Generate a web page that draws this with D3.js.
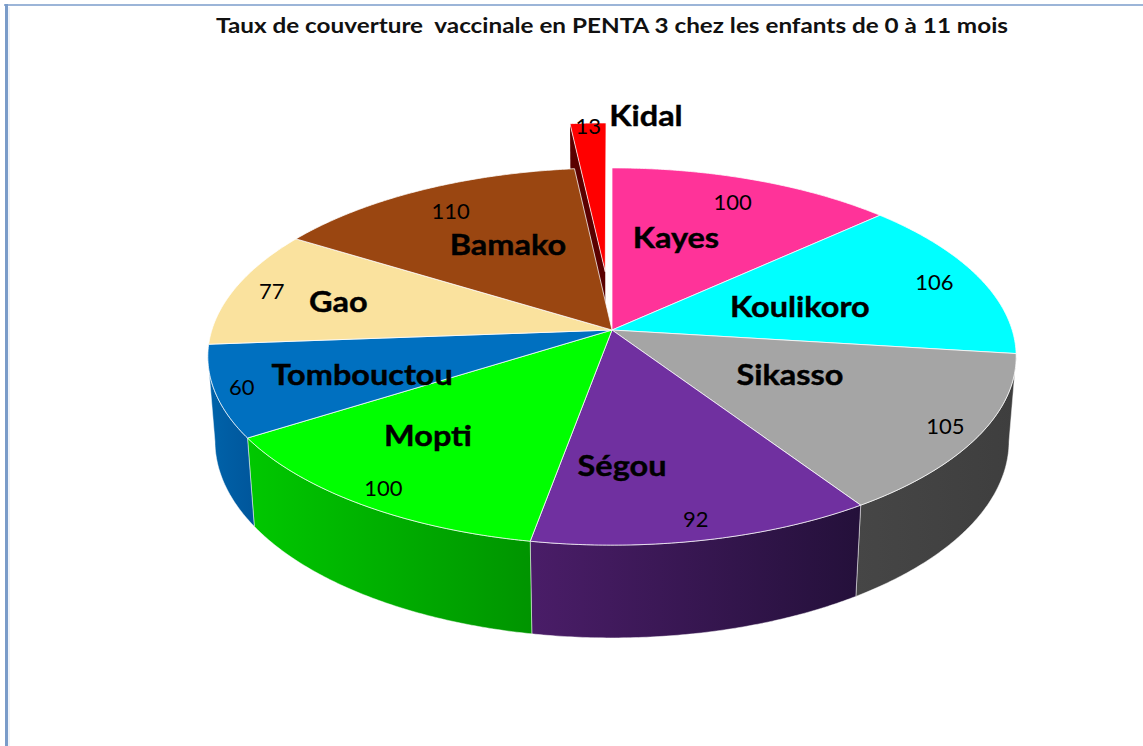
<!DOCTYPE html>
<html><head><meta charset="utf-8">
<script src="https://cdn.jsdelivr.net/npm/d3@7"></script>
<style>body{margin:0;background:#fff}svg{display:block}</style>
</head><body>
<svg id="c" width="1143" height="746"></svg>
<script>
// ---- data ----
const title = "Taux de couverture  vaccinale en PENTA 3 chez les enfants de 0 à 11 mois";
const regions = ["Kayes","Koulikoro","Sikasso","Ségou","Mopti","Tombouctou","Gao","Bamako","Kidal"];
const coverage = [100,106,105,92,100,60,77,110,13];

// ---- styles ----
const topColors = ["#FF3399","#00FFFF","#A5A5A5","#7030A0","#00FF00","#0070C0","#FAE29E","#9A4611","#FF0000"];
const wallLight = ["#b0246c","#00b4b4","#464646","#4a1d68","#00c800","#0063aa","#b8a06e","#6a300b","#6b0000"];
const wallDark  = ["#8a1c55","#009090","#3e3e3e","#24103a","#009400","#00569b","#9c8860","#55260a","#5a0000"];

// ---- layout ----
const explode = [0,0,0,0,0,0,0,0,0.33];
const nameShiftDeg = [-5.8, 2.4, -3.3, 9.6, 5, -2.8, -1.3, 2.6, 9.5];
const nameRadius = [0.562,0.496,0.49,0.663,0.68,0.648,0.716,0.565,1.062];
const valueRadius = [0.835,0.878,0.915,0.913,0.918,0.935,0.902,0.834,0.98];

const W = 1143, H = 746;
const cx = 612, cy = 330, F = 2525, Dist = 6.31;
const sn = 0.462, cs = Math.sqrt(1 - sn*sn), depth = 0.24;

function proj(X, Z, Hh){
  const zc = Z*cs + Hh*sn, yc = Z*sn - Hh*cs, k = F/(Dist - zc);
  return [cx + X*k, cy + yc*k];
}
function pt(a, r, ox, oz, Hh){ return proj(ox + r*Math.sin(a), oz - r*Math.cos(a), Hh); }
function arcPts(a0, a1, r, ox, oz, Hh){
  const n = Math.max(2, Math.ceil(Math.abs(a1-a0)/(Math.PI/360)));
  const p = [];
  for (let k=0;k<=n;k++){ const a = a0+(a1-a0)*k/n; p.push(pt(a,r,ox,oz,Hh)); }
  return p;
}
const toPath = p => "M" + p.map(q=>q[0].toFixed(2)+","+q[1].toFixed(2)).join("L") + "Z";

const svg = d3.select("#c");
const defs = svg.append("defs");

// border
svg.append("line").attr("x1",4).attr("x2",W).attr("y1",5).attr("y2",5)
  .attr("stroke","#9cb5d8").attr("stroke-width",2);
svg.append("line").attr("x1",6.5).attr("x2",6.5).attr("y1",4).attr("y2",H)
  .attr("stroke","#7a9cc9").attr("stroke-width",3);
svg.append("line").attr("x1",9).attr("x2",9).attr("y1",7).attr("y2",H)
  .attr("stroke","#dfe8f4").attr("stroke-width",1);

// title
svg.append("text").attr("x",612).attr("y",33).attr("text-anchor","middle")
  .attr("xml:space","preserve").style("white-space","pre")
  .attr("font-family","Lato, 'Open Sans', sans-serif").attr("font-weight","bold")
  .attr("font-size",21).attr("textLength",792).attr("lengthAdjust","spacingAndGlyphs")
  .attr("fill","#111").text(title);

const pie = d3.pie().sort(null).value(d=>d.v).startAngle(0).endAngle(2*Math.PI);
const arcs = pie(regions.map((n,i)=>({name:n, v:coverage[i], i})));

arcs.forEach((d,i)=>{
  const g = defs.append("linearGradient").attr("id","w"+i).attr("x1",0).attr("x2",1).attr("y1",0).attr("y2",0);
  g.append("stop").attr("offset","0%").attr("stop-color",wallLight[i]);
  g.append("stop").attr("offset","100%").attr("stop-color",wallDark[i]);
  d.mid = (d.startAngle+d.endAngle)/2;
  d.ox = explode[i]*Math.sin(d.mid);
  d.oz = -explode[i]*Math.cos(d.mid);
});

const z0 = cs/Dist, lo = Math.acos(-z0), hi = 2*Math.PI - lo;
const walls = svg.append("g");
// radial walls of exploded slices
arcs.filter(d=>explode[d.index]>0).forEach(d=>{
  const p = [pt(d.startAngle,0,d.ox,d.oz,0), pt(d.startAngle,1,d.ox,d.oz,0),
             pt(d.startAngle,1,d.ox,d.oz,-depth), pt(d.startAngle,0,d.ox,d.oz,-depth)];
  walls.append("path").attr("d",toPath(p)).attr("fill",wallDark[d.index]);
});
// outer walls (front part only)
arcs.map(d=>{
  const a0 = Math.max(d.startAngle, lo), a1 = Math.min(d.endAngle, hi);
  return {d, a0, a1};
}).filter(w=>w.a1>w.a0 && explode[w.d.index]===0)
  .forEach(w=>{
    const d = w.d;
    const top = arcPts(w.a0, w.a1, 1, d.ox, d.oz, 0);
    const bot = arcPts(w.a1, w.a0, 1, d.ox, d.oz, -depth);
    walls.append("path").attr("d",toPath(top.concat(bot)))
      .attr("fill","url(#w"+d.index+")")
      .attr("stroke","#ffffff").attr("stroke-opacity",0.6).attr("stroke-width",0.8);
  });

// top faces
const tops = svg.append("g");
arcs.forEach(d=>{
  const p = [pt(0,0,d.ox,d.oz,0)].concat(arcPts(d.startAngle,d.endAngle,1,d.ox,d.oz,0));
  tops.append("path").attr("d",toPath(p)).attr("fill",topColors[d.index])
    .attr("stroke","#ffffff").attr("stroke-opacity",0.75).attr("stroke-width",1);
});

// labels
const lab = svg.append("g").attr("fill","#000");
arcs.forEach(d=>{
  const i = d.index;
  const pv = pt(d.mid, valueRadius[i], d.ox, d.oz, 0);
  lab.append("text").attr("x",pv[0]).attr("y",pv[1]).attr("dy","0.36em")
    .attr("text-anchor","middle").attr("font-family","Lato, sans-serif")
    .attr("font-size",22).text(coverage[i]);
  const pn = pt(d.mid + nameShiftDeg[i]*Math.PI/180, nameRadius[i], d.ox, d.oz, 0);
  lab.append("text").attr("transform",`translate(${pn[0]},${pn[1]}) scale(1.12,1)`)
    .attr("dy","0.36em")
    .attr("text-anchor","middle").attr("font-family","Lato, sans-serif")
    .attr("font-weight","bold").attr("font-size",29)
    .attr("stroke","#000").attr("stroke-width",0.4)
    .text(regions[i]);
});
</script>
</body></html>
